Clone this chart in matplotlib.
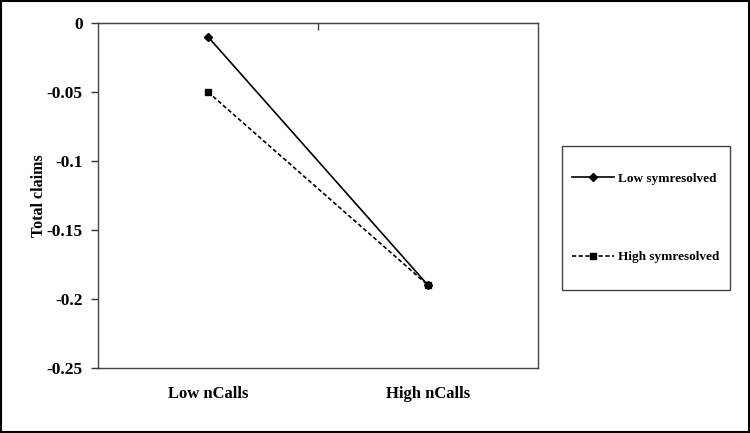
import matplotlib.pyplot as plt
from matplotlib.patches import Rectangle

# data
categories = ["Low nCalls", "High nCalls"]
low_symresolved = [-0.01, -0.19]
high_symresolved = [-0.05, -0.19]
y_ticks = [0, -0.05, -0.1, -0.15, -0.2, -0.25]
y_tick_labels = ["0", "-0.05", "-0.1", "-0.15", "-0.2", "-0.25"]

plt.rcParams["font.family"] = ["Liberation Serif", "DejaVu Serif"]
plt.rcParams["font.weight"] = "bold"

fig = plt.figure(figsize=(7.5, 4.33), dpi=100)
ax = fig.add_axes([98 / 750, 1 - 368 / 433, 440 / 750, 345 / 433])

x = list(range(len(categories)))
ax.plot(x, low_symresolved, color="black", lw=1.2, marker="D", ms=4,
        label="Low symresolved")
ax.plot(x, high_symresolved, color="black", lw=1.2, ls=(0, (2.5, 1.5)),
        marker="s", ms=5, label="High symresolved")

ax.set_xlim(-0.5, 1.5)
ax.set_ylim(-0.25, 0)
ax.set_yticks(y_ticks)
ax.set_yticklabels(y_tick_labels, fontsize=12.5, fontweight="bold")
ax.set_xticks(x)
ax.set_xticklabels(categories, fontsize=12, fontweight="bold")
ax.tick_params(axis="x", length=0, pad=13)
ax.tick_params(axis="y", direction="out", length=5, width=1, color="#333333", pad=6)
ax.set_ylabel("Total claims", fontsize=11.5, fontweight="bold", labelpad=0)

for side in ["left", "top", "right", "bottom"]:
    ax.spines[side].set_color("#444444")
    ax.spines[side].set_linewidth(1.0)

# category divider tick on the top axis
top = ax.secondary_xaxis("top")
top.set_xticks([0.5])
top.set_xticklabels([])
top.tick_params(direction="in", length=5, width=1, color="#444444")

# legend box drawn separately so its size matches the reference
fig.patches.append(Rectangle((562 / 750, 1 - 290 / 433), 168 / 750, 144 / 433,
                             transform=fig.transFigure, fill=False,
                             edgecolor="#444444", lw=1.0))
handles, labels = ax.get_legend_handles_labels()
fig.legend(handles, labels, loc="center", bbox_to_anchor=(646 / 750, 1 - 218 / 433),
           frameon=False, prop={"size": 9.5, "weight": "bold"},
           handlelength=3.2, handletextpad=0.3, labelspacing=5.0)

# outer border of the figure
fig.patches.append(Rectangle((0.001, 0.002), 0.997, 0.996, transform=fig.transFigure,
                             fill=False, edgecolor="black", lw=1.5))

fig.savefig("out.png", dpi=100)
